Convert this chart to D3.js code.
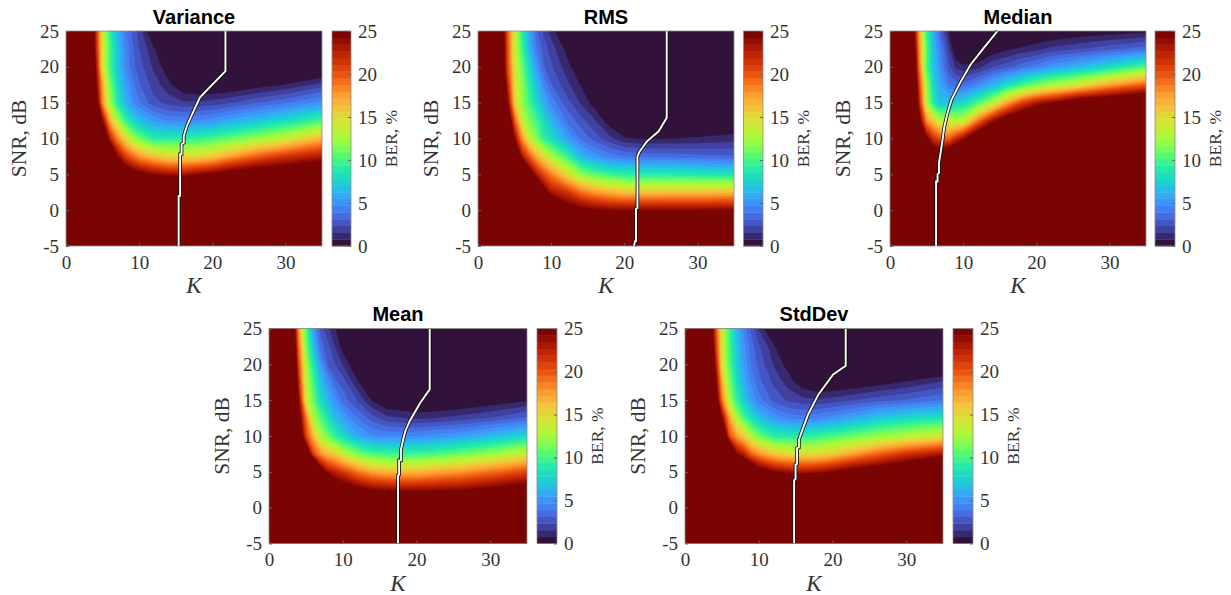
<!DOCTYPE html>
<html>
<head>
<meta charset="utf-8">
<script src="https://cdnjs.cloudflare.com/ajax/libs/d3/7.8.5/d3.min.js"></script>
<style>
  body { margin: 0; background: #fff; }
  text { font-family: "Liberation Serif", serif; fill: #333; }
  .tick line { stroke: #666; }
</style>
</head>
<body>
<div id="chart"></div>
<script>
// grid the BER values were read on (rows run from the top of the plot down)
const kGrid = [0, 3, 4, 5, 6, 7, 8, 9, 10, 12, 14, 16, 18, 20, 22, 26, 30, 35];
const snrGrid = [25, 22.5, 20, 17.5, 15, 12.5, 10, 7.5, 5, 2.5, 0, -2.5, -5];

const kTicks = [0, 10, 20, 30];
const snrTicks = [-5, 0, 5, 10, 15, 20, 25];
const berTicks = [0, 5, 10, 15, 20, 25];

const varianceBer = [
  [60, 35, 23, 14, 9.3, 6.3, 4.3, 3, 2, -0.4, -1, -1, -1, -1, -1, -1, -1, -1],
  [60, 35, 23.5, 14.5, 10, 7, 4.8, 3.4, 2.4, 0.9, -1, -1, -1, -1, -1, -1, -1, -1],
  [60, 36, 24.8, 14.5, 10, 7, 5, 3.5, 2.7, 1.4, 0.2, -0.5, -1, -1, -1, -1, -1, -1],
  [60, 38, 26, 17, 11.5, 8, 5.8, 4.3, 3.2, 2, 1, 0, -0.4, -0.4, -0.3, 0.3, 0.8, 1.9],
  [60, 40, 28, 18, 12.5, 9, 6.7, 5, 4, 2.6, 2.1, 1.7, 1.7, 1.9, 2.2, 3, 3.8, 5],
  [60, 45, 35, 24.2, 17, 13, 10, 8, 6.6, 5.3, 4.5, 4.5, 4.7, 5.1, 5.7, 6.8, 8, 10],
  [60, 50, 45, 33, 22.5, 18.5, 15.5, 12.8, 11.2, 9, 9, 9.2, 9.5, 10, 10.7, 12.1, 13.8, 16.7],
  [60, 55, 50, 45, 33, 24.7, 21.3, 19.5, 17.8, 16.1, 15, 15, 15, 15.7, 17.2, 19.7, 21.5, 23],
  [60, 60, 55, 50, 45, 35, 28, 26.5, 25.4, 24.2, 23.5, 23.2, 24.2, 24.9, 26, 27.2, 27.6, 29],
  [60, 60, 55, 50, 50, 50, 45, 42, 40, 37, 36, 36, 37, 38, 38, 40, 41, 42],
  [60, 60, 60, 55, 55, 55, 50, 50, 50, 50, 50, 50, 50, 50, 50, 50, 50, 50],
  [60, 60, 60, 60, 60, 60, 60, 60, 60, 60, 60, 60, 60, 60, 60, 60, 60, 60],
  [60, 60, 60, 60, 60, 60, 60, 60, 60, 60, 60, 60, 60, 60, 60, 60, 60, 60]
];
const rmsBer = [
  [60, 30, 20.3, 14, 9.2, 5.8, 3.3, 2.1, 1.2, -0.4, -1, -1, -1, -1, -1, -1, -1, -1],
  [60, 30, 20.8, 14, 10, 6.5, 4, 2.8, 2, 0.6, -1, -1, -1, -1, -1, -1, -1, -1],
  [60, 30, 21, 14.5, 11, 8, 5.2, 3.2, 2.5, 1.2, 0, -1, -1, -1, -1, -1, -1, -1],
  [60, 33, 22.8, 15, 12, 9, 6.8, 4.6, 3.2, 1.9, 0.75, -0.5, -1, -1, -1, -1, -1, -1],
  [60, 36, 25, 16, 12, 10, 7.8, 6, 4.5, 2.8, 1.5, 0.3, -0.5, -1, -1, -1, -1, -1],
  [60, 40, 29, 20, 14, 11.5, 10, 8, 6.3, 3.9, 2.7, 1.6, 0.2, -0.5, -0.6, -0.6, -0.6, -0.5],
  [60, 45, 35, 24.2, 18, 14, 11.5, 9.3, 8, 5.8, 3.8, 2.8, 1.8, 0.9, 0.7, 0.75, 0.9, 1.2],
  [60, 50, 45, 37, 23.3, 20, 17, 15, 13, 10, 6.6, 5.1, 4.3, 3.9, 3.7, 3.6, 3.4, 3.2],
  [60, 55, 50, 45, 40, 27, 23, 20.5, 18.5, 15.3, 12.1, 10.5, 9.8, 9.2, 9, 9, 8.7, 8.4],
  [60, 60, 55, 50, 45, 40, 32, 26, 23.2, 21.7, 19.2, 17.7, 16.8, 16.1, 16.1, 16.2, 16.3, 16.3],
  [60, 60, 60, 55, 50, 45, 42, 38, 33, 26.2, 25.5, 24.8, 24.3, 24.3, 24.3, 24.3, 24.3, 24.5],
  [60, 60, 60, 60, 55, 50, 50, 45, 45, 42, 40, 40, 40, 40, 40, 40, 40, 40],
  [60, 60, 60, 60, 60, 60, 55, 55, 55, 50, 50, 50, 50, 50, 50, 50, 50, 50]
];
const medianBer = [
  [60, 28, 17, 9.8, 5.7, 3, 0.8, -0.5, -1, -1, -1, -1, -1, -0.4, -0.3, 0, 0.2, 0.5],
  [60, 30, 18, 10.5, 6.3, 4, 2, -0.3, -0.8, -0.6, 0.1, 0.6, 1, 1.3, 1.8, 2.3, 2.9, 3.6],
  [60, 31, 19, 10.3, 6.8, 4.5, 2.7, 1.4, 1, 1.2, 2.3, 2.8, 3.6, 4.3, 5.2, 6.5, 8, 10.4],
  [60, 32, 21, 12.5, 7.5, 5.5, 4, 3.5, 3.5, 4.7, 6.1, 8, 9.7, 11.3, 12.5, 14.5, 17.3, 19.8],
  [60, 35, 22.5, 13, 8.5, 6.7, 7, 7.5, 7.9, 10.1, 13.1, 17.3, 20.7, 23, 24.2, 27.3, 28.4, 29.8],
  [60, 38, 25.5, 18, 15.5, 13, 13.5, 13, 13.3, 18.8, 23.5, 26.9, 28.7, 30.5, 33, 38, 40, 42],
  [60, 42, 34, 25, 21.5, 20, 19.5, 21.8, 23.8, 28.4, 30.5, 38, 45, 45, 45, 45, 45, 45],
  [60, 50, 45, 36, 28.2, 27.5, 29.3, 30, 33.8, 38, 45, 48, 50, 50, 50, 50, 50, 50],
  [60, 55, 50, 50, 50, 50, 50, 50, 50, 50, 50, 50, 50, 50, 50, 50, 50, 50],
  [60, 60, 55, 55, 55, 55, 55, 55, 55, 55, 55, 55, 55, 55, 55, 55, 55, 55],
  [60, 60, 60, 60, 60, 60, 60, 60, 60, 60, 60, 60, 60, 60, 60, 60, 60, 60],
  [60, 60, 60, 60, 60, 60, 60, 60, 60, 60, 60, 60, 60, 60, 60, 60, 60, 60],
  [60, 60, 60, 60, 60, 60, 60, 60, 60, 60, 60, 60, 60, 60, 60, 60, 60, 60]
];
const meanBer = [
  [60, 31, 18, 10.5, 5.4, 2.8, 1.7, 0.8, -0.2, -1, -1, -1, -1, -1, -1, -1, -1, -1],
  [60, 32, 19.5, 11.5, 7, 3.5, 2.6, 1.5, 0.4, -1, -1, -1, -1, -1, -1, -1, -1, -1],
  [60, 33, 21, 12.8, 8.7, 5.2, 3, 2.3, 1.5, -0.2, -1, -1, -1, -1, -1, -1, -1, -1],
  [60, 35, 22.5, 13.5, 10, 6.8, 5, 3.3, 2.8, 0.9, -0.4, -1, -1, -1, -1, -1, -1, -1],
  [60, 37, 24.6, 14.5, 11, 8, 6.4, 5, 3.6, 2.3, 0.7, -0.3, -0.4, -0.5, -0.5, -0.3, 0.1, 0.7],
  [60, 40, 26.5, 19, 13, 10.5, 8.5, 6.6, 5.6, 3.9, 2.7, 1.8, 1.6, 1.4, 1.5, 1.9, 2.4, 3.3],
  [60, 45, 29, 21, 16.5, 13, 11, 9.3, 7.9, 5.8, 4.8, 4.6, 4.6, 4.7, 5, 5.5, 6.4, 7.9],
  [60, 50, 40, 29, 21, 18, 16.5, 15.5, 13.8, 11.5, 10.1, 9.8, 9.8, 9.8, 10, 11, 12.2, 14],
  [60, 55, 50, 45, 38, 27, 23.5, 22.4, 21.2, 18.9, 17.2, 16.6, 16.5, 16.5, 17, 17.8, 19, 20.7],
  [60, 60, 55, 50, 45, 42, 40, 27.4, 27, 25.5, 24.5, 24, 23.7, 23.7, 23.8, 24.2, 25.2, 26.5],
  [60, 60, 60, 55, 50, 45, 45, 42, 40, 40, 38, 36, 36, 36, 36, 36, 38, 40],
  [60, 60, 60, 60, 55, 50, 50, 50, 45, 45, 45, 45, 45, 45, 45, 45, 45, 45],
  [60, 60, 60, 60, 60, 60, 55, 55, 50, 50, 50, 50, 50, 50, 50, 50, 50, 50]
];
const stdDevBer = [
  [60, 34, 22, 14, 9.8, 6.5, 4.4, 2.9, 1.5, -0.6, -1, -1, -1, -1, -1, -1, -1, -1],
  [60, 35, 23, 14.5, 10, 7, 4.9, 3.5, 2.5, 1, -1, -1, -1, -1, -1, -1, -1, -1],
  [60, 36, 25, 15, 10.5, 7.5, 5.3, 3.8, 2.9, 1.5, 0.4, -0.5, -1, -1, -1, -1, -1, -1],
  [60, 38, 27, 17, 11.5, 8.3, 6, 4.5, 3.4, 2.2, 1.2, 0.2, -0.3, -0.3, -0.2, 0.3, 0.9, 1.7],
  [60, 40, 29, 19, 13, 9.5, 7.2, 5.5, 4.3, 2.9, 2.2, 1.8, 1.7, 1.9, 2.2, 2.8, 3.2, 3.9],
  [60, 45, 34, 24.7, 17.5, 13, 10.3, 8.3, 6.8, 5.3, 4.4, 4.3, 4.6, 5, 5.6, 7, 8, 8.6],
  [60, 50, 44, 32, 20.5, 17.5, 15.5, 13, 11.2, 9.2, 8.8, 9, 9.5, 10.2, 10.7, 12, 13, 14.5],
  [60, 55, 50, 45, 34, 24.5, 22.5, 19.5, 18, 16, 15, 15, 15, 15.7, 17, 19.5, 21.5, 23.3],
  [60, 60, 55, 50, 45, 36, 31, 29.3, 26.6, 24.5, 23.6, 23, 23.5, 24.5, 25.6, 26.8, 28.2, 30.8],
  [60, 60, 55, 50, 50, 50, 45, 42, 40, 37, 36, 36, 37, 38, 38, 40, 41, 42],
  [60, 60, 60, 55, 55, 55, 50, 50, 50, 50, 50, 50, 50, 50, 50, 50, 50, 50],
  [60, 60, 60, 60, 60, 60, 60, 60, 60, 60, 60, 60, 60, 60, 60, 60, 60, 60],
  [60, 60, 60, 60, 60, 60, 60, 60, 60, 60, 60, 60, 60, 60, 60, 60, 60, 60]
];

// white threshold curves
const varianceCurveK = [15.4, 15.4, 15.6, 15.6, 15.8, 15.8, 16.1, 16.1, 16.5, 17.2, 18.3, 19.5, 21.8, 21.8];
const varianceCurveSnr = [-5, 2, 2, 7.8, 7.8, 9.2, 9.4, 10.3, 11.7, 13.3, 15.7, 17, 19.4, 25];
const rmsCurveK = [21.3, 21.5, 21.6, 21.6, 21.8, 21.8, 22.1, 23.1, 24.7, 25.8, 25.8];
const rmsCurveSnr = [-5, -4.3, -4.3, 0.2, 0.3, 7.5, 8.2, 9.6, 11, 12.9, 25];
const medianCurveK = [6.3, 6.3, 6.5, 6.5, 6.7, 6.7, 6.95, 7.2, 7.4, 7.8, 8.4, 9.6, 11, 12.8, 14.7];
const medianCurveSnr = [-5, 4, 4, 5, 5.2, 6.6, 8.2, 9.9, 11.5, 13.3, 15.4, 17.8, 20.3, 22.6, 25];
const meanCurveK = [17.5, 17.5, 17.65, 17.65, 17.9, 17.9, 18.2, 18.5, 19.1, 20.5, 21.8, 21.8];
const meanCurveSnr = [-5, 4.5, 4.6, 6.6, 6.6, 8.1, 9.5, 10.7, 12.1, 14.6, 16.5, 25];
const stdDevCurveK = [14.8, 14.8, 15, 15, 15.2, 15.2, 15.45, 15.45, 15.8, 16.7, 18.1, 20.1, 21.8, 21.8];
const stdDevCurveSnr = [-5, 3.8, 4, 6, 6.1, 8.3, 8.4, 9.5, 10.5, 13, 15.8, 18.6, 19.8, 25];

const titles = ["Variance", "RMS", "Median", "Mean", "StdDev"];

// turbo colormap in 32 flat steps, same as the colorbar
const turboStops = ["#30123b", "#4145ab", "#4675ed", "#39a2fc", "#1bcfd4", "#24eca6", "#61fc6c",
  "#a4fc3b", "#d1e834", "#f3c63a", "#fe9b2d", "#f36315", "#d93806", "#b11901", "#7a0402"];
const nBands = 32;
const bandColors = d3.quantize(d3.piecewise(d3.interpolateRgb, turboStops), nBands);
const berMax = 25;

let svg = d3.select("#chart").append("svg")
    .attr("width", 1231)
    .attr("height", 595)
    .style("display", "block");

drawPanel(titles[0], varianceBer, varianceCurveK, varianceCurveSnr, {left: 66, right: 322, top: 31, bottom: 246, barLeft: 332, barRight: 351});
drawPanel(titles[1], rmsBer, rmsCurveK, rmsCurveSnr, {left: 478, right: 734, top: 31, bottom: 246, barLeft: 743.5, barRight: 763});
drawPanel(titles[2], medianBer, medianCurveK, medianCurveSnr, {left: 890, right: 1146, top: 31, bottom: 246, barLeft: 1155, barRight: 1175});
drawPanel(titles[3], meanBer, meanCurveK, meanCurveSnr, {left: 269, right: 527, top: 328.5, bottom: 543.5, barLeft: 537, barRight: 557});
drawPanel(titles[4], stdDevBer, stdDevCurveK, stdDevCurveSnr, {left: 685, right: 943, top: 328.5, bottom: 543.5, barLeft: 953, barRight: 973});

function drawPanel(title, ber, curveK, curveSnr, box) {
    let x = d3.scaleLinear().domain([0, 35]).range([box.left, box.right]);
    let y = d3.scaleLinear().domain([-5, 25]).range([box.bottom, box.top]);
    let barY = d3.scaleLinear().domain([0, berMax]).range([box.bottom, box.top]);

    // d3.contours puts value i at coordinate i + 0.5, map that back onto the uneven grid
    let gridK = d3.scaleLinear().domain(kGrid.map((d, i) => i + 0.5)).range(kGrid).clamp(true);
    let gridSnr = d3.scaleLinear().domain(snrGrid.map((d, i) => i + 0.5)).range(snrGrid).clamp(true);
    let path = d3.geoPath(d3.geoTransform({
        point: function(a, b) { this.stream.point(x(gridK(a)), y(gridSnr(b))); }
    }));
    let contours = d3.contours().size([kGrid.length, snrGrid.length]).smooth(true);
    let values = ber.flat();

    // lowest band first, each higher band painted on top
    svg.append("rect")
        .attr("x", box.left)
        .attr("y", box.top)
        .attr("width", box.right - box.left)
        .attr("height", box.bottom - box.top)
        .attr("fill", bandColors[0]);

    let levels = d3.range(1, nBands);
    svg.append("g").selectAll("path")
        .data(levels)
        .enter().append("path")
        .attr("d", function(i) { return path(contours.contour(values, i * berMax / nBands)); })
        .attr("fill", function(i) { return bandColors[i]; });

    // threshold curve, black under white
    let line = d3.line()
        .x(function(d, i) { return x(curveK[i]); })
        .y(function(d, i) { return y(curveSnr[i]); });
    svg.append("path").attr("d", line(curveK))
        .attr("fill", "none").attr("stroke", "#111").attr("stroke-width", 3.6);
    svg.append("path").attr("d", line(curveK))
        .attr("fill", "none").attr("stroke", "#fff").attr("stroke-width", 1.9);

    // box
    svg.append("rect")
        .attr("x", box.left)
        .attr("y", box.top)
        .attr("width", box.right - box.left)
        .attr("height", box.bottom - box.top)
        .attr("fill", "none")
        .attr("stroke", "#8a8a8a")
        .attr("stroke-width", 0.8);

    // axes
    let xAxis = svg.append("g")
        .attr("transform", "translate(0," + box.bottom + ")")
        .call(d3.axisBottom(x).tickValues(kTicks).tickFormat(String)
            .tickSizeInner(-3).tickSizeOuter(0).tickPadding(9.5));
    let yAxis = svg.append("g")
        .attr("transform", "translate(" + box.left + ",0)")
        .call(d3.axisLeft(y).tickValues(snrTicks).tickFormat(String)
            .tickSizeInner(-3).tickSizeOuter(0).tickPadding(7));

    // colorbar
    svg.append("g").selectAll("rect")
        .data(bandColors)
        .enter().append("rect")
        .attr("x", box.barLeft)
        .attr("y", function(d, i) { return barY((i + 1) * berMax / nBands); })
        .attr("width", box.barRight - box.barLeft)
        .attr("height", barY(0) - barY(berMax / nBands) + 0.4)
        .attr("fill", function(d) { return d; });
    svg.append("rect")
        .attr("x", box.barLeft)
        .attr("y", box.top)
        .attr("width", box.barRight - box.barLeft)
        .attr("height", box.bottom - box.top)
        .attr("fill", "none")
        .attr("stroke", "#8a8a8a")
        .attr("stroke-width", 0.8);
    let barAxis = svg.append("g")
        .attr("transform", "translate(" + box.barRight + ",0)")
        .call(d3.axisRight(barY).tickValues(berTicks).tickFormat(String)
            .tickSizeInner(-3).tickSizeOuter(0).tickPadding(7));

    [xAxis, yAxis, barAxis].forEach(function(a) {
        a.select(".domain").remove();
        a.selectAll("text").style("font-size", "19px").style("font-family", "Liberation Serif").style("fill", "#333");
    });

    // labels
    let midX = (box.left + box.right) / 2;
    let midY = (box.top + box.bottom) / 2;
    svg.append("text")
        .attr("x", midX)
        .attr("y", box.top - 7.5)
        .attr("text-anchor", "middle")
        .style("font-family", "Liberation Sans")
        .style("font-weight", "bold")
        .style("font-size", "20px")
        .style("fill", "#000")
        .text(title);
    svg.append("text")
        .attr("x", midX)
        .attr("y", box.bottom + 47)
        .attr("text-anchor", "middle")
        .style("font-style", "italic")
        .style("font-size", "23px")
        .text("K");
    svg.append("text")
        .attr("transform", "translate(" + (box.left - 40) + "," + midY + ") rotate(-90)")
        .attr("text-anchor", "middle")
        .style("font-size", "21.5px")
        .text("SNR, dB");
    svg.append("text")
        .attr("transform", "translate(" + (box.barRight + 45.5) + "," + midY + ") rotate(-90)")
        .attr("text-anchor", "middle")
        .style("font-size", "17.5px")
        .text("BER, %");
}
</script>
</body>
</html>
